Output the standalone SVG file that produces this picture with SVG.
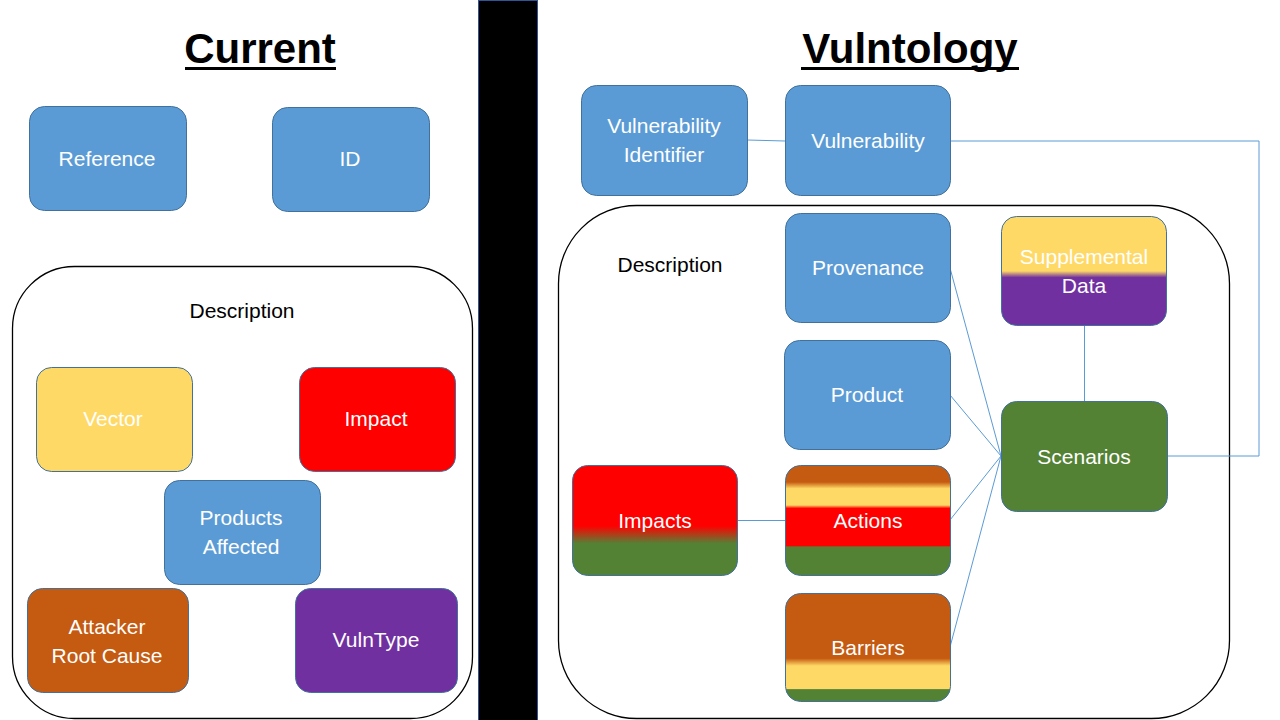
<svg xmlns="http://www.w3.org/2000/svg" width="1280" height="720" viewBox="0 0 1280 720">
<defs>
<style>
.n{stroke:#41719C;stroke-width:1}
.blue{fill:#5B9BD5}
.t{font-family:"Liberation Sans",Arial,sans-serif;font-size:21px;fill:#FFFFFF;text-anchor:middle}
.d{font-family:"Liberation Sans",Arial,sans-serif;font-size:21px;fill:#000000;text-anchor:middle}
.h{font-family:"Liberation Sans",Arial,sans-serif;font-size:42px;font-weight:bold;fill:#000000;text-anchor:middle}
.c{fill:none;stroke:#5B9BD5;stroke-width:1}
.box{fill:#FFFFFF;stroke:#000000;stroke-width:1.3}
</style>
<linearGradient id="gImpacts" x1="0" y1="0" x2="0" y2="1">
<stop offset="0" stop-color="#FF0000"/><stop offset="0.55" stop-color="#FF0000"/>
<stop offset="0.71" stop-color="#548235"/><stop offset="1" stop-color="#548235"/>
</linearGradient>
<linearGradient id="gActions" x1="0" y1="0" x2="0" y2="1">
<stop offset="0" stop-color="#C55A11"/><stop offset="0.15" stop-color="#C55A11"/>
<stop offset="0.21" stop-color="#FFD966"/><stop offset="0.36" stop-color="#FFD966"/>
<stop offset="0.39" stop-color="#FF0000"/><stop offset="0.73" stop-color="#FF0000"/>
<stop offset="0.74" stop-color="#548235"/><stop offset="1" stop-color="#548235"/>
</linearGradient>
<linearGradient id="gBarriers" x1="0" y1="0" x2="0" y2="1">
<stop offset="0" stop-color="#C55A11"/><stop offset="0.6" stop-color="#C55A11"/>
<stop offset="0.67" stop-color="#FFD966"/><stop offset="0.88" stop-color="#FFD966"/>
<stop offset="0.89" stop-color="#548235"/><stop offset="1" stop-color="#548235"/>
</linearGradient>
<linearGradient id="gSupp" x1="0" y1="0" x2="0" y2="1">
<stop offset="0" stop-color="#FFD966"/><stop offset="0.5" stop-color="#FFD966"/>
<stop offset="0.56" stop-color="#7030A0"/><stop offset="1" stop-color="#7030A0"/>
</linearGradient>
</defs>
<rect width="1280" height="720" fill="#FFFFFF"/>

<g id="divider"><rect x="478.5" y="0.5" width="59" height="720" fill="#000000" stroke="#2F5597" stroke-width="1"/></g>

<g id="title-current">
<text class="h" x="260" y="63">Current</text>
<rect x="185" y="67" width="151" height="3" fill="#000000"/>
</g>
<g id="title-vulntology">
<text class="h" x="910" y="63">Vulntology</text>
<rect x="801" y="67" width="218" height="3" fill="#000000"/>
</g>

<!-- Left panel -->
<g id="reference"><rect class="n blue" x="29.5" y="106.5" width="157" height="104" rx="15"/><text class="t" x="107" y="166">Reference</text></g>
<g id="id"><rect class="n blue" x="272.5" y="107.5" width="157" height="104" rx="15"/><text class="t" x="350" y="166">ID</text></g>
<g id="description-left"><rect class="box" x="12.5" y="266.5" width="460" height="452" rx="62"/><text class="d" x="242" y="318">Description</text></g>
<g id="vector"><rect class="n" fill="#FFD966" x="36.5" y="367.5" width="156" height="104" rx="15"/><text class="t" x="113" y="426">Vector</text></g>
<g id="impact"><rect class="n" fill="#FF0000" x="299.5" y="367.5" width="156" height="104" rx="15"/><text class="t" x="376" y="426">Impact</text></g>
<g id="products-affected"><rect class="n blue" x="164.5" y="480.5" width="156" height="104" rx="15"/><text class="t" x="241" y="525">Products</text><text class="t" x="241" y="554">Affected</text></g>
<g id="attacker-root-cause"><rect class="n" fill="#C55A11" x="27.5" y="588.5" width="161" height="104" rx="15"/><text class="t" x="107" y="634">Attacker</text><text class="t" x="107" y="663">Root Cause</text></g>
<g id="vulntype"><rect class="n" fill="#7030A0" x="295.5" y="588.5" width="162" height="104" rx="15"/><text class="t" x="376" y="647">VulnType</text></g>

<!-- Right panel -->
<g id="description-right"><rect class="box" x="558.5" y="205.5" width="671" height="513" rx="78"/><text class="d" x="670" y="272">Description</text></g>

<g id="connectors">
<line class="c" x1="747" y1="140" x2="785" y2="141"/>
<polyline class="c" points="950,141 1259,141 1259,456 1167,456"/>
<line class="c" x1="1084.5" y1="325" x2="1084.5" y2="401"/>
<line class="c" x1="950" y1="268" x2="1001" y2="456"/>
<line class="c" x1="950" y1="395" x2="1001" y2="456"/>
<line class="c" x1="950" y1="520" x2="1001" y2="456"/>
<line class="c" x1="950" y1="647" x2="1001" y2="456"/>
<line class="c" x1="737" y1="520.5" x2="785" y2="520.5"/>
</g>

<g id="vulnerability-identifier"><rect class="n blue" x="581.5" y="85.5" width="166" height="110" rx="15"/><text class="t" x="664" y="133">Vulnerability</text><text class="t" x="664" y="162">Identifier</text></g>
<g id="vulnerability"><rect class="n blue" x="785.5" y="85.5" width="165" height="110" rx="15"/><text class="t" x="868" y="148">Vulnerability</text></g>
<g id="provenance"><rect class="n blue" x="785.5" y="213.5" width="165" height="109" rx="15"/><text class="t" x="868" y="275">Provenance</text></g>
<g id="product"><rect class="n blue" x="784.5" y="340.5" width="166" height="109" rx="15"/><text class="t" x="867" y="402">Product</text></g>
<g id="supplemental-data"><rect class="n" fill="url(#gSupp)" x="1001.5" y="216.5" width="165" height="109" rx="15"/><text class="t" x="1084" y="264">Supplemental</text><text class="t" x="1084" y="293">Data</text></g>
<g id="scenarios"><rect class="n" fill="#548235" x="1001.5" y="401.5" width="166" height="110" rx="15"/><text class="t" x="1084" y="464">Scenarios</text></g>
<g id="impacts"><rect class="n" fill="url(#gImpacts)" x="572.5" y="465.5" width="165" height="110" rx="15"/><text class="t" x="655" y="528">Impacts</text></g>
<g id="actions"><rect class="n" fill="url(#gActions)" x="785.5" y="465.5" width="165" height="110" rx="15"/><text class="t" x="868" y="528">Actions</text></g>
<g id="barriers"><rect class="n" fill="url(#gBarriers)" x="785.5" y="593.5" width="165" height="108" rx="15"/><text class="t" x="868" y="655">Barriers</text></g>
</svg>
